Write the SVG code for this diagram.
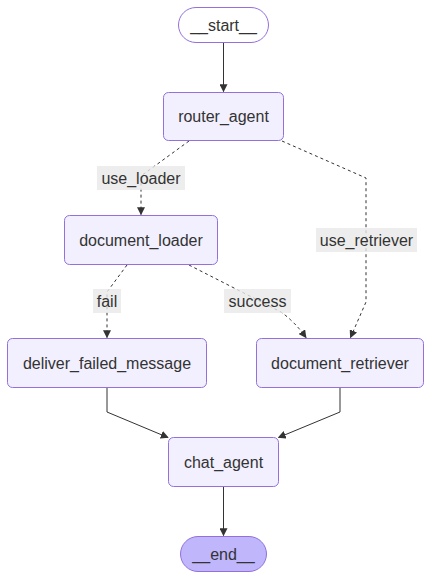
<svg xmlns="http://www.w3.org/2000/svg" width="432" height="579" viewBox="0 0 432 579">
<defs>
<marker id="arr" viewBox="0 0 10 10" refX="9" refY="5" markerWidth="8" markerHeight="8" markerUnits="userSpaceOnUse" orient="auto">
<path d="M0,0 L10,5 L0,10 z" fill="#333"/>
</marker>
<style>
.node rect{fill:#f2f0ff;stroke:#9370db;stroke-width:1}
.start rect{fill:#ffffff}
.end rect{fill:#bfb6fc}
text{font-family:"Liberation Sans",Arial,sans-serif;font-size:16px;fill:#333;text-anchor:middle;dominant-baseline:central}
.edge{fill:none;stroke:#333;stroke-width:1;marker-end:url(#arr)}
.dash{stroke-dasharray:3,3}
.lbl rect{fill:#e8e8e8;fill-opacity:0.8;stroke:none}
</style>
</defs>
<rect width="432" height="579" fill="#ffffff"/>
<g id="connectors">
<path class="edge" d="M223.5,42.5 L223.5,91.5"/>
<path class="edge dash" d="M189,141 L141,176 L141,214.5"/>
<path class="edge dash" d="M282,141 L366,178 L366,302 L350.5,337.5"/>
<path class="edge dash" d="M127,265 L107,292 L107,337.5"/>
<path class="edge dash" d="M189,265 L281,312 Q295,322 306,337.5"/>
<path class="edge" d="M107,388 L107,412 L168,437.5"/>
<path class="edge" d="M340,388 L340,412 L278.5,437.5"/>
<path class="edge" d="M223.5,487 L223.5,535.5"/>
</g>
<g id="edge-labels">
<g class="lbl" id="lbl-use_loader"><rect x="97" y="166" width="88" height="24"/><text x="141" y="178">use_loader</text></g>
<g class="lbl" id="lbl-use_retriever"><rect x="316" y="228" width="101" height="24"/><text x="366.5" y="240">use_retriever</text></g>
<g class="lbl" id="lbl-fail"><rect x="93" y="289" width="28" height="24"/><text x="107" y="301">fail</text></g>
<g class="lbl" id="lbl-success"><rect x="224" y="289" width="67" height="24"/><text x="257.5" y="301">success</text></g>
</g>
<g id="start" class="node start"><rect x="178.5" y="7.5" width="90" height="35" rx="17.5"/><text x="223.5" y="25">__start__</text></g>
<g id="router_agent" class="node"><rect x="163.5" y="92.5" width="120" height="48" rx="5"/><text x="223.5" y="116.5">router_agent</text></g>
<g id="document_loader" class="node"><rect x="64.5" y="215.5" width="153" height="49" rx="5"/><text x="141" y="240">document_loader</text></g>
<g id="deliver_failed_message" class="node"><rect x="7.5" y="338.5" width="199" height="49" rx="5"/><text x="107" y="363">deliver_failed_message</text></g>
<g id="document_retriever" class="node"><rect x="256.5" y="338.5" width="167" height="49" rx="5"/><text x="340" y="363">document_retriever</text></g>
<g id="chat_agent" class="node"><rect x="168.5" y="437.5" width="110" height="49" rx="5"/><text x="223.5" y="462">chat_agent</text></g>
<g id="end" class="node end"><rect x="180.5" y="536.5" width="86" height="35" rx="17.5"/><text x="223.5" y="554">__end__</text></g>
</svg>
